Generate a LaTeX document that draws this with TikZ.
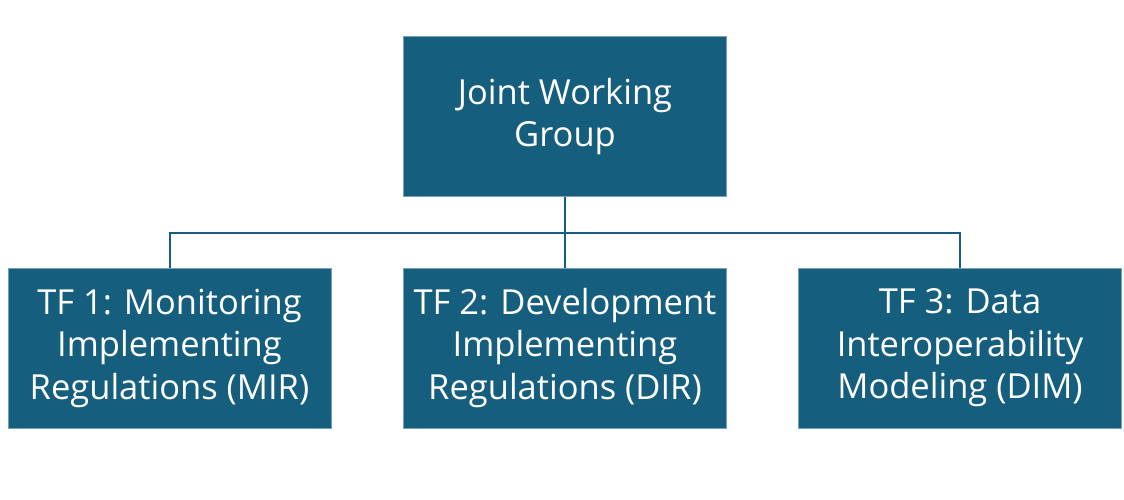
\documentclass[tikz,border=0pt]{standalone}
\usepackage{fontspec}
\setmainfont{Open Sans}
\definecolor{boxblue}{RGB}{22,94,126}
\definecolor{edgeblue}{RGB}{120,160,185}
\begin{document}
\begin{tikzpicture}[x=1pt,y=-1pt,
  orgbox/.style={fill=boxblue, draw=edgeblue, line width=0.6pt, text=white,
    minimum width=323pt, minimum height=160pt, inner sep=0pt,
    align=center, font=\fontsize{34.5}{42.5}\selectfont},
  link/.style={draw=boxblue, line width=2pt}]
\useasboundingbox (0,0) rectangle (1124,500);
\node[orgbox] (jwg) at (565,116.5) {Joint Working\\Group};
\node[orgbox] (tf1) at (169.5,348) {TF 1: Monitoring\\Implementing\\Regulations (MIR)};
\node[orgbox] (tf2) at (565,348) {TF 2: Development\\Implementing\\Regulations (DIR)};
\node[orgbox] (tf3) at (960,348) {TF 3: Data\\Interoperability\\Modeling (DIM)};
\coordinate (bus) at (565,233);
\draw[link] (jwg.south) -- (tf2.north);
\draw[link] (tf1.north) |- (bus) -| (tf3.north);
\end{tikzpicture}
\end{document}
